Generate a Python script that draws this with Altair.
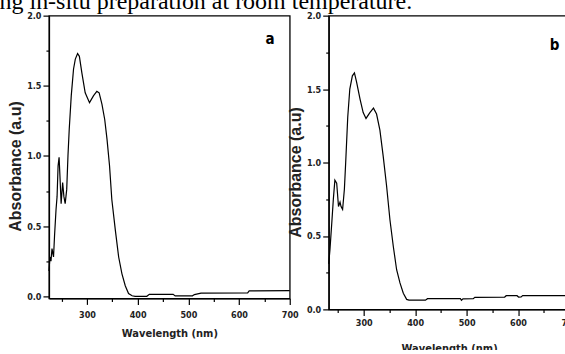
import altair as alt
import pandas as pd

caption = "ng in-situ preparation at room temperature."

# Panel a: wavelength (nm) and absorbance (a.u)
wl_a = [225, 227, 229, 231, 234, 236, 239, 241, 243, 245, 247, 249, 252, 254.5, 257, 260,
        262.5, 265, 269, 273.5, 277, 281.5, 285, 290, 296.5, 305, 313, 319.5, 324, 329.5,
        335, 339.5, 344.5, 349, 356, 362.5, 369, 375.5, 382, 389, 395, 418, 423, 470, 474,
        508, 512, 525, 617, 620, 700]
abs_a = [0.18, 0.28, 0.25, 0.34, 0.28, 0.43, 0.62, 0.71, 0.93, 0.99, 0.83, 0.66, 0.81,
         0.71, 0.66, 0.76, 1.0, 1.19, 1.43, 1.62, 1.69, 1.73, 1.71, 1.59, 1.45, 1.38,
         1.43, 1.46, 1.45, 1.37, 1.26, 1.12, 0.93, 0.69, 0.47, 0.28, 0.16, 0.075, 0.02,
         0.004, 0.0, 0.0, 0.014, 0.014, 0.003, 0.003, 0.012, 0.022, 0.024, 0.038, 0.04]

# Panel b
wl_b = [232, 234.5, 238, 241, 244, 247.5, 251, 254, 256, 259, 262.5, 265, 269, 273, 278,
        282, 286, 293, 299, 304.5, 312, 319, 325, 331.5, 338, 344.5, 351, 357.5, 364,
        370.5, 377, 383.5, 388, 420, 424, 488, 490, 493, 513, 516, 574, 577, 598, 601,
        606, 609, 700]
abs_b = [0.31, 0.41, 0.59, 0.75, 0.88, 0.86, 0.70, 0.73, 0.70, 0.68, 0.82, 1.0, 1.31,
         1.50, 1.59, 1.61, 1.55, 1.43, 1.34, 1.30, 1.34, 1.37, 1.33, 1.22, 1.04, 0.84,
         0.61, 0.43, 0.27, 0.18, 0.11, 0.068, 0.063, 0.063, 0.073, 0.073, 0.062, 0.072,
         0.073, 0.082, 0.084, 0.093, 0.093, 0.084, 0.085, 0.094, 0.094]

panel_labels = ["a", "b"]
label_wl = [661, 671]
label_abs = [1.83, 1.80]

x_tick_vals = [250, 300, 350, 400, 450, 500, 550, 600, 650, 700]
y_tick_vals = [0, 0.25, 0.5, 0.75, 1.0, 1.25, 1.5, 1.75, 2.0]

NARROW = "Liberation Sans Narrow, Arial Narrow, DejaVu Sans Condensed, sans-serif"
INK = "#222222"


def x_axis(label_pad, title_pad):
    return alt.Axis(
        values=x_tick_vals,
        labelExpr="datum.value % 100 === 0 ? datum.label : ''",
        format="d",
        tickSize={"condition": {"test": "datum.value % 100 === 0", "value": 6}, "value": 3},
        labelPadding=label_pad,
        titlePadding=title_pad,
        labelFlush=False,
        labelOverlap=False,
    )


def y_axis(title_pad, title_y):
    return alt.Axis(
        values=y_tick_vals,
        labelExpr="datum.value % 0.5 === 0 ? datum.label : ''",
        format=".1f",
        tickSize={"condition": {"test": "datum.value % 0.5 === 0", "value": 6}, "value": 3},
        labelPadding=2,
        titlePadding=title_pad,
        titleY=title_y,
        labelOverlap=False,
    )


def panel(wl, ab, lab, lx, ly, xdom, ydom, w, h, xlp, xtp, ytp, yty):
    df = pd.DataFrame({"wl": wl, "abs": ab})
    dl = pd.DataFrame({"wl": [lx], "abs": [ly], "t": [lab]})
    x = alt.X("wl:Q", title="Wavelength (nm)",
              scale=alt.Scale(domain=xdom, nice=False, zero=False), axis=x_axis(xlp, xtp))
    y = alt.Y("abs:Q", title="Absorbance (a.u)",
              scale=alt.Scale(domain=ydom, nice=False, zero=False), axis=y_axis(ytp, yty))
    line = alt.Chart(df).mark_line(color="black", strokeWidth=1.2).encode(x=x, y=y)
    txt = alt.Chart(dl).mark_text(font=NARROW, fontWeight="bold", fontSize=15,
                                  color="black").encode(x=x, y=y, text="t:N")
    return alt.layer(line, txt).properties(
        width=w, height=h,
        view=alt.ViewBackground(stroke="black", strokeWidth=1.3),
    )


pa = panel(wl_a, abs_a, panel_labels[0], label_wl[0], label_abs[0],
           [225, 700], [-0.015, 2.0], 241, 283, 6, 8.5, 3, 150.5)
pb = panel(wl_b, abs_b, panel_labels[1], label_wl[1], label_abs[1],
           [232, 700], [0, 2.0], 241, 294, 3.5, 14.5, 3, 156.5)

chart = alt.hconcat(pa, pb, spacing=39, bounds="flush").properties(
    title=alt.TitleParams(caption, font="Liberation Serif", fontSize=24,
                          fontWeight="normal", color="black", anchor="start",
                          offset=-3.5, dx=-7.5),
    padding={"left": -1, "top": -10.5, "right": -14.5, "bottom": -5},
    background="white",
).configure_axis(
    grid=False,
    domainColor="black",
    domainWidth=1.3,
    tickColor="black",
    tickWidth=1.2,
    labelFont=NARROW,
    labelFontWeight="bold",
    labelFontSize=9,
    labelColor=INK,
    titleFont="Liberation Sans",
    titleFontWeight="bold",
    titleFontSize=16,
    titleColor=INK,
).configure_axisX(
    titleFont=NARROW,
    titleFontSize=11,
)

chart.save("out.html", embed_options={"renderer": "svg", "actions": False})
